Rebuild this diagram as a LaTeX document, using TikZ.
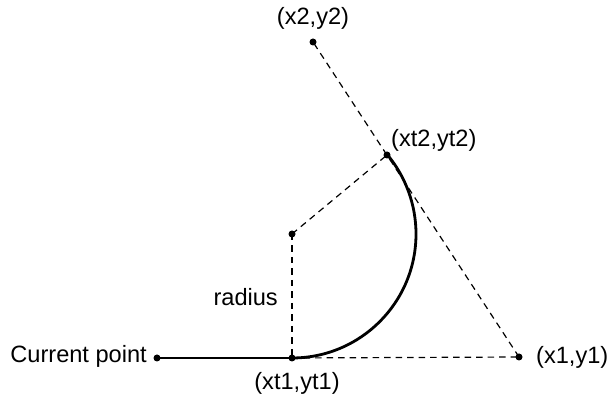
\documentclass[tikz,border=0pt]{standalone}
\usepackage{fontspec}
\setmainfont{Liberation Sans}
\begin{document}
\begin{tikzpicture}[x=1pt,y=1pt,
  dot/.style={circle,fill=black,inner sep=0pt,minimum size=7pt},
  guide/.style={line width=1.2pt,dash pattern=on 6.5pt off 5pt},
  curve/.style={line width=2.8pt},
  lbl/.style={font=\fontsize{23.6}{26}\selectfont,inner sep=0pt}]
\useasboundingbox (0,0) rectangle (613,403);
% points
\node[dot] (cp)  at (157,45) {};
\node[dot] (xt1) at (292,45) {};
\node[dot] (x1)  at (519,46) {};
\node[dot] (c)   at (292,169) {};
\node[dot] (xt2) at (387,248) {};
\node[dot] (x2)  at (313,361) {};
% guides
\draw[guide] (c.center) -- (xt1.center);
\draw[guide] (c.center) -- (xt2.center);
\draw[guide] (xt1.center) -- (x1.center);
\draw[guide] (x1.center) -- (x2.center);
% path
\draw[curve] (cp.center) -- (xt1.center);
\draw[curve] (xt1.center) arc[start angle=-90,end angle=40,radius=124pt];
% labels
\node[lbl,anchor=east] (lcp) at (147,47) {Current point};
\node[lbl] (lxt1) at (297,20) {(xt1,yt1)};
\node[lbl,anchor=west] (lx1) at (536,46) {(x1,y1)};
\node[lbl,anchor=east] (lrad) at (278,106) {radius};
\node[lbl,anchor=west] (lxt2) at (391,263) {(xt2,yt2)};
\node[lbl] (lx2) at (313,385) {(x2,y2)};
\end{tikzpicture}
\end{document}
